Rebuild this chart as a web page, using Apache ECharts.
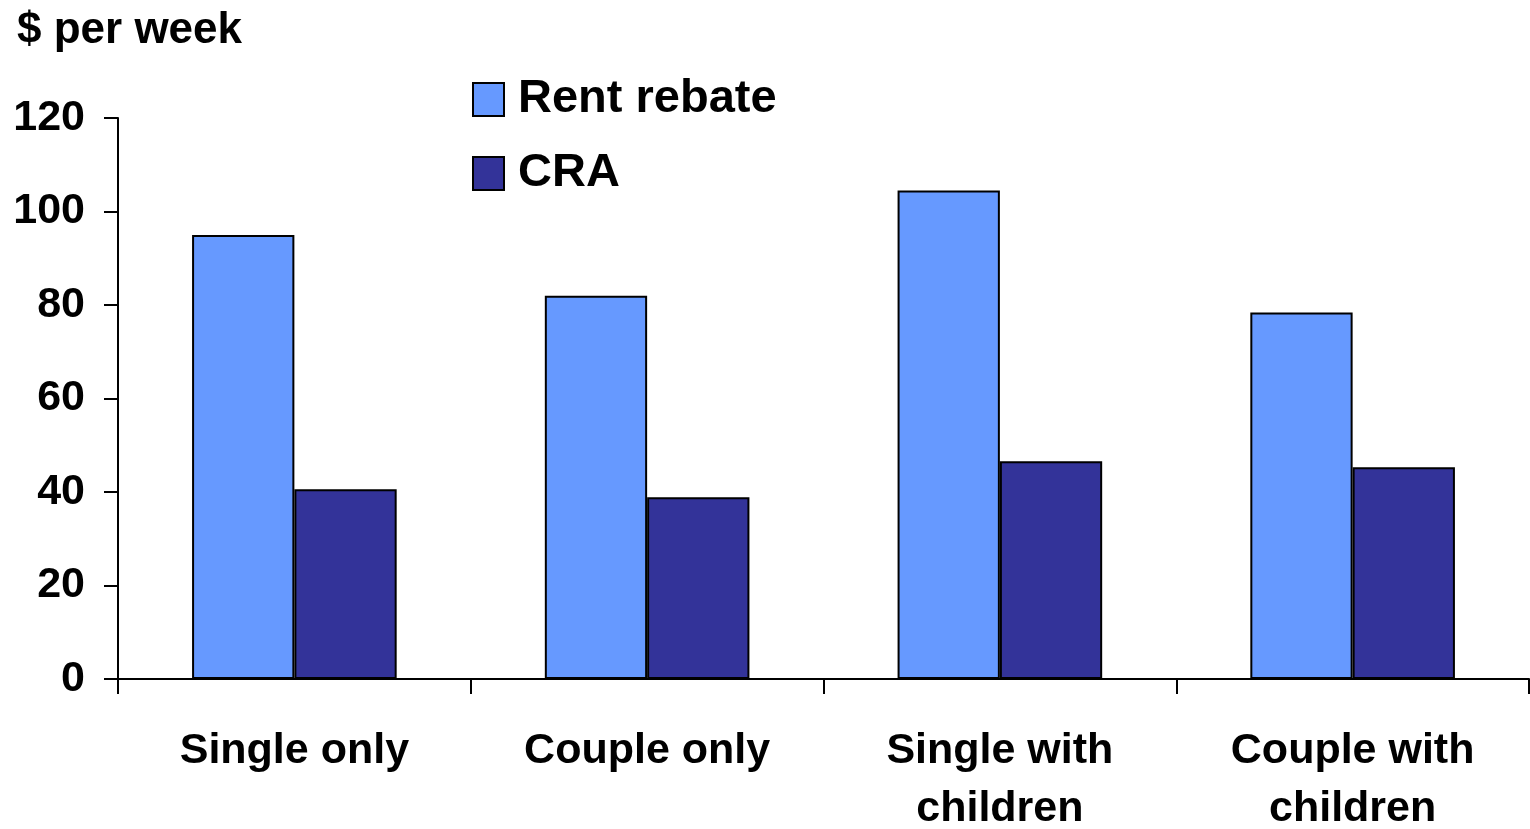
<!DOCTYPE html>
<html>
<head>
<meta charset="utf-8">
<script src="https://cdn.jsdelivr.net/npm/echarts@6/dist/echarts.min.js"></script>
<style>
html,body{margin:0;padding:0;background:#fff;overflow:hidden;}
#chart{width:1530px;height:829px;}
</style>
</head>
<body>
<div id="chart"></div>
<script>
const categories = ['Single only', 'Couple only', 'Single with\nchildren', 'Couple with\nchildren'];
const rentRebate = [95.0, 82.0, 104.5, 78.4];
const cra = [40.6, 38.9, 46.6, 45.3];
const yTicks = [0, 20, 40, 60, 80, 100, 120];

const FONT = "'Liberation Sans', Arial, sans-serif";
const chart = echarts.init(document.getElementById('chart'));
chart.setOption({
  backgroundColor: '#fff',
  animation: false,
  title: {
    text: '$ per week',
    left: 12, top: 4,
    textStyle: {fontFamily: FONT, fontWeight: 'bold', fontSize: 44, color: '#000'}
  },
  legend: {
    orient: 'vertical',
    left: 467, top: 71,
    itemWidth: 31, itemHeight: 33,
    itemGap: 27,
    icon: 'rect',
    textStyle: {fontFamily: FONT, fontWeight: 'bold', fontSize: 47, color: '#000', padding: [0,0,0,9]},
    data: ['Rent rebate', 'CRA']
  },
  grid: {left: 118, right: 1, top: 118, height: 561, containLabel: false, outerBoundsMode: 'none'},
  xAxis: {
    type: 'category',
    data: categories,
    axisLine: {lineStyle: {color: '#000', width: 2}},
    axisTick: {show: true, length: 15, lineStyle: {color: '#000', width: 2}},
    axisLabel: {fontFamily: FONT, fontWeight: 'bold', fontSize: 43, color: '#000', margin: 43, lineHeight: 58, interval: 0}
  },
  yAxis: {
    type: 'value',
    min: 0, max: 120, interval: 20,
    axisLine: {show: true, lineStyle: {color: '#000', width: 2}},
    axisTick: {show: true, length: 14, lineStyle: {color: '#000', width: 2}},
    splitLine: {show: false},
    axisLabel: {
      fontFamily: FONT, fontWeight: 'bold', fontSize: 43, color: '#000', margin: 33,
      formatter: v => yTicks.includes(v) ? String(v) : ''
    }
  },
  series: [
    {
      name: 'Rent rebate', type: 'bar', data: rentRebate,
      barGap: '0%', barCategoryGap: '42%',
      itemStyle: {color: '#6699FF', borderColor: '#000', borderWidth: 2}
    },
    {
      name: 'CRA', type: 'bar', data: cra,
      barGap: '0%', barCategoryGap: '42%',
      itemStyle: {color: '#333399', borderColor: '#000', borderWidth: 2}
    }
  ]
});
</script>
</body>
</html>
